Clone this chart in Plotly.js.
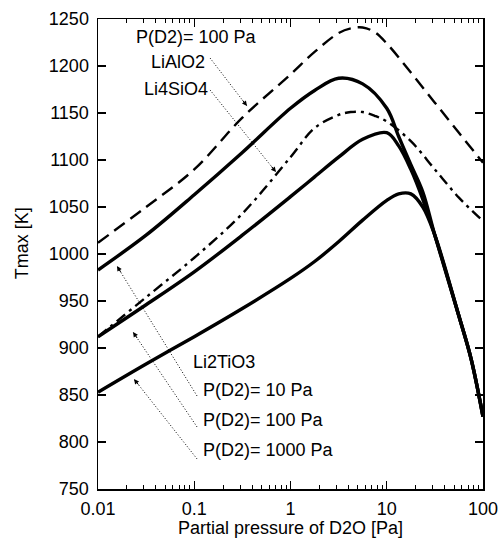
<!DOCTYPE html>
<html>
<head>
<meta charset="utf-8">
<script src="https://cdn.plot.ly/plotly-3.0.1.min.js"></script>
<style>html,body{margin:0;padding:0;background:#fff;}</style>
</head>
<body>
<div id="chart" style="width:499px;height:538px;"></div>
<script>
// Partial pressure of D2O [Pa] sample positions
const pD2O = [0.01, 0.0316, 0.1, 0.316, 1, 1.78, 3.16, 5.62, 10, 13.3, 17.8, 23.7, 31.6, 56.2, 75, 100];
// Li2TiO3, P(D2) = 10 Pa
const ti10_T = [983, 1020, 1063, 1108, 1155, 1174, 1187, 1181, 1155, 1125, 1095, 1066, 1020, 934, 889, 827];
// Li2TiO3, P(D2) = 100 Pa
const ti100_T = [912, 946, 981, 1020, 1061, 1082, 1103, 1122, 1129, 1115, 1090, 1058, 1020, 934, 889, 827];
// Li2TiO3, P(D2) = 1000 Pa
const ti1000_T = [853, 883, 912, 942, 974, 992, 1013, 1036, 1057, 1064, 1064, 1050, 1020, 934, 889, 827];

const pOx = [0.01, 0.0316, 0.1, 0.316, 1, 1.78, 3.16, 4.22, 5.62, 7.5, 10, 17.8, 31.6, 56.2, 100];
// LiAlO2, P(D2) = 100 Pa
const al_T = [1012, 1050, 1090, 1145, 1191, 1215, 1235, 1240, 1241, 1236, 1224, 1193, 1161, 1129, 1097];
// Li4SiO4, P(D2) = 100 Pa
const si_T = [912, 954, 996, 1043, 1103, 1134, 1148, 1151, 1151, 1147, 1141, 1120, 1090, 1060, 1035];

const xTickVals = [0.01, 0.1, 1, 10, 100];
const xTickText = ['0.01', '0.1', '1', '10', '100'];
const xMinorVals = [];
[0.01, 0.1, 1, 10].forEach(d => { for (let k = 2; k <= 9; k++) xMinorVals.push(d * k); });

// pointer arrows: [tail log10(p), tail T, tip log10(p), tip T]
const arrows = [
  [-0.836, 1208.5, -0.452, 1157.4],
  [-0.836, 1174.5, -0.151, 1087.2],
  [-0.971, 849, -1.803, 987.2],
  [-0.971, 816, -1.636, 917],
  [-0.971, 782, -1.626, 867]
];

const FONT = 'Liberation Sans, Arial, Helvetica, sans-serif';
const FS = 18;
const solid = {color: '#000', width: 3.4, shape: 'spline', smoothing: 1};

const traces = [
  {x: pD2O, y: ti10_T, mode: 'lines', line: solid, hoverinfo: 'skip'},
  {x: pD2O, y: ti100_T, mode: 'lines', line: solid, hoverinfo: 'skip'},
  {x: pD2O, y: ti1000_T, mode: 'lines', line: solid, hoverinfo: 'skip'},
  {x: pOx, y: al_T, mode: 'lines', line: {color: '#000', width: 2.4, dash: '13px,7px', shape: 'spline', smoothing: 1}, hoverinfo: 'skip'},
  {x: pOx, y: si_T, mode: 'lines', line: {color: '#000', width: 2.4, dash: '11px,5px,3px,5px', shape: 'spline', smoothing: 1}, hoverinfo: 'skip'}
];

arrows.forEach(a => {
  traces.push({
    x: [Math.pow(10, a[0]), Math.pow(10, a[2])], y: [a[1], a[3]],
    mode: 'lines', line: {color: '#000', width: 1, dash: '1px,2px'}, hoverinfo: 'skip'
  });
});

const annotations = [];
arrows.forEach(a => {
  const px = (v) => 98 + (v + 2) * 96.25;
  const py = (T) => 19 + (1250 - T) * 0.94;
  let dx = px(a[0]) - px(a[2]), dy = py(a[1]) - py(a[3]);
  const L = Math.sqrt(dx * dx + dy * dy);
  dx = dx / L * 9; dy = dy / L * 9;
  annotations.push({
    x: a[2], y: a[3], xref: 'x', yref: 'y', text: '', showarrow: true,
    axref: 'pixel', ayref: 'pixel', ax: dx, ay: dy,
    arrowhead: 2, arrowsize: 1, arrowwidth: 1, arrowcolor: '#000', standoff: 0
  });
});

const txt = (t, x, y, xa) => ({
  text: t, x: x, y: y, xref: 'paper', yref: 'paper', xanchor: xa, yanchor: 'middle',
  showarrow: false, font: {family: FONT, size: FS, color: '#000'}
});
annotations.push(txt('P(D2)= 100 Pa', 0.094, 0.962, 'left'));
annotations.push(txt('LiAlO2', 0.283, 0.909, 'right'));
annotations.push(txt('Li4SiO4', 0.290, 0.851, 'right'));
annotations.push(txt('Li2TiO3', 0.242, 0.270, 'left'));
annotations.push(txt('P(D2)= 10 Pa', 0.268, 0.211, 'left'));
annotations.push(txt('P(D2)= 100 Pa', 0.268, 0.147, 'left'));
annotations.push(txt('P(D2)= 1000 Pa', 0.268, 0.083, 'left'));
annotations.push({
  text: 'Tmax [K]', x: -0.197, y: 0.523, xref: 'paper', yref: 'paper',
  xanchor: 'center', yanchor: 'middle', textangle: -90, showarrow: false,
  font: {family: FONT, size: FS, color: '#000'}
});

const layout = {
  width: 499, height: 538,
  margin: {l: 98, r: 16, t: 19, b: 49},
  paper_bgcolor: '#fff', plot_bgcolor: '#fff',
  showlegend: false,
  font: {family: FONT, size: FS, color: '#000'},
  xaxis: {
    type: 'log', range: [-2, 2],
    tickmode: 'array', tickvals: xTickVals, ticktext: xTickText,
    ticks: 'inside', ticklen: 8, tickwidth: 1.2, tickcolor: '#000',
    minor: {tickmode: 'array', tickvals: xMinorVals, ticks: 'inside', ticklen: 4, tickwidth: 1, tickcolor: '#000', showgrid: false},
    showline: true, linecolor: '#000', linewidth: 1.5, mirror: 'ticks',
    showgrid: false, zeroline: false,
    tickfont: {family: FONT, size: FS, color: '#000'},
    ticklabelstandoff: 3,
    title: {text: 'Partial pressure of D2O [Pa]', font: {family: FONT, size: FS, color: '#000'}, standoff: 0}
  },
  yaxis: {
    range: [750, 1250], tickmode: 'linear', tick0: 750, dtick: 50,
    ticks: 'inside', ticklen: 8, tickwidth: 1.2, tickcolor: '#000',
    showline: true, linecolor: '#000', linewidth: 1.5, mirror: 'ticks',
    showgrid: false, zeroline: false,
    tickfont: {family: FONT, size: FS, color: '#000'},
    ticklabelstandoff: 4
  },
  annotations: annotations
};

Plotly.newPlot('chart', traces, layout, {displayModeBar: false, staticPlot: true});
</script>
</body>
</html>
